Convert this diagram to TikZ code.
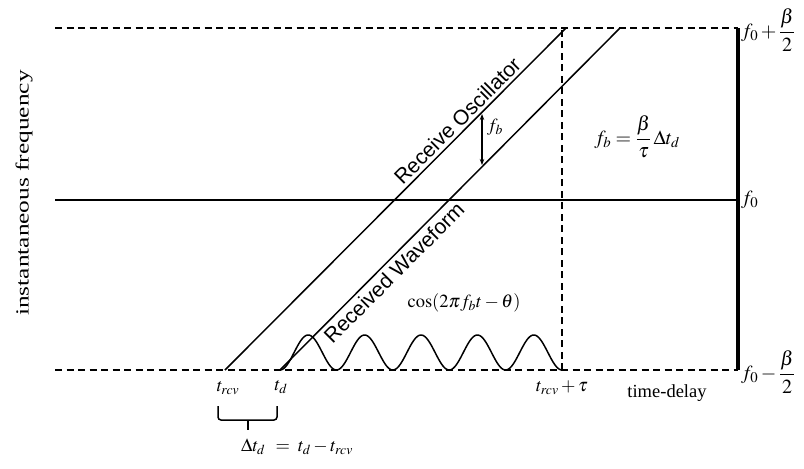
\documentclass[tikz,border=0pt]{standalone}
\usepackage{amsmath}
\usepackage{mathptmx}
\usepackage{fontspec}
\setmainfont{Liberation Serif}
\newfontfamily\arialf{Liberation Sans}
\usetikzlibrary{arrows.meta}
\begin{document}
\begin{tikzpicture}[x=1pt,y=-1pt,
  dline/.style={line width=1.5pt, dash pattern=on 7pt off 4.5pt},
  sline/.style={line width=1.5pt},
  lbl/.style={font=\fontsize{18.5}{22}\selectfont, inner sep=0pt},
  flbl/.style={font=\fontsize{20}{24}\selectfont, inner sep=0pt},
  slbl/.style={font=\arialf\fontsize{21}{25}\selectfont, inner sep=0pt}]
\useasboundingbox (0,0) rectangle (804,469);
% frame lines
\coordinate (TL) at (55,28); \coordinate (TR) at (738,28);
\coordinate (BL) at (55,370); \coordinate (BR) at (738,370);
\coordinate (ML) at (55,200); \coordinate (MR) at (738,200);
\coordinate (trcv) at (225,370); \coordinate (td) at (280,370);
\coordinate (oscT) at (566,28); \coordinate (wavT) at (620,28);
\coordinate (tau) at (562,370); \coordinate (tauT) at (562,28);
\draw[dline] (TL) -- (TR);
\draw[dline] (BL) -- (BR);
\draw[sline] (ML) -- (MR);
\draw[line width=3.5pt] (TR) -- (BR);
\draw[dline] (tau) -- (tauT);
% chirp lines
\draw[sline] (trcv) -- (oscT) coordinate[pos=0.705] (oscmid);
\draw[sline] (td) -- (wavT) coordinate[pos=0.31] (wavmid);
% beat sinusoid
\draw[sline] plot[domain=0:5, samples=240, smooth] ({280+56.4*\x},{370-17.5*(1-cos(360*\x))});
% fb arrow
\coordinate (fbA) at (482,114); \coordinate (fbB) at (482,165);
\draw[line width=1.3pt,{Stealth[length=6pt]}-{Stealth[length=6pt]}] (fbA) -- (fbB);
\node[lbl] (fb) at (495,127) {$f_b$};
% brace
\draw[line width=1.5pt, rounded corners=3pt] (218,406) -- (218,420) -- (277,420) -- (277,406);
\coordinate (brtip) at (248,420);
\coordinate (brend) at (248,430);
\draw[line width=1.5pt] (brtip) -- (brend);
% labels
\node[lbl] (ltrcv) at (228,388) {$t_{rcv}$};
\node[lbl] (ltd) at (281,387) {$t_d$};
\node[lbl] (ltau) at (562,388) {$t_{rcv}+\tau$};
\node[lbl] (ltime) at (667,393) {time-delay};
\node[lbl] (ldelta) at (297,447) {$\Delta t_d\;\,=\;t_d - t_{rcv}$};
\node[lbl] (lcos) at (464,303) {$\cos(2\pi f_b t-\theta)$};
\node[flbl] (lfb) at (637,137) {$f_b=\dfrac{\beta}{\tau}\,\Delta t_d$};
\node[flbl, anchor=west] (ltop) at (741,30) {$f_0+\dfrac{\beta}{2}$};
\node[flbl, anchor=west] (lmid) at (741,200) {$f_0$};
\node[flbl, anchor=west] (lbot) at (741,372) {$f_0-\dfrac{\beta}{2}$};
\node[lbl, rotate=90, xscale=1.37] (lyax) at (24,193) {instantaneous frequency};
\node[slbl, rotate=45, anchor=south] (losc) at ([shift={(-2.5,-2.5)}]oscmid) {Receive Oscillator};
\node[slbl, rotate=45, anchor=north] (lwav) at ([shift={(3,3)}]wavmid) {Received Waveform};
\end{tikzpicture}
\end{document}
